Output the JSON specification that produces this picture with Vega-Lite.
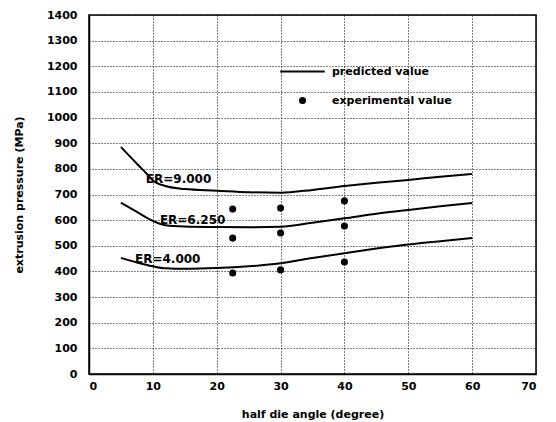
{
  "$schema": "https://vega.github.io/schema/vega-lite/v6.json",
  "width": 447,
  "height": 359,
  "autosize": {"type": "none"},
  "padding": {"left": 89, "top": 15, "right": 20, "bottom": 48},
  "background": "white",
  "config": {
    "view": {"stroke": "black", "strokeWidth": 1.5},
    "axis": {
      "labelFont": "DejaVu Sans", "labelFontSize": 11, "labelFontWeight": "bold", "labelColor": "black",
      "titleFont": "DejaVu Sans", "titleFontSize": 11, "titleFontWeight": "bold", "titleColor": "black",
      "domainColor": "black", "domainWidth": 1.5, "tickSize": 0,
      "gridColor": "black", "gridDash": [1, 2], "gridWidth": 1, "gridOpacity": 1
    }
  },
  "datasets": {
    "curves": [
      {"ER": "9.000", "angle": 5, "pressure": 885}, {"ER": "9.000", "angle": 7.5, "pressure": 820}, {"ER": "9.000", "angle": 9, "pressure": 782}, {"ER": "9.000", "angle": 10, "pressure": 755}, {"ER": "9.000", "angle": 12, "pressure": 733}, {"ER": "9.000", "angle": 15, "pressure": 721}, {"ER": "9.000", "angle": 20, "pressure": 715}, {"ER": "9.000", "angle": 25, "pressure": 709}, {"ER": "9.000", "angle": 30, "pressure": 707}, {"ER": "9.000", "angle": 35, "pressure": 718}, {"ER": "9.000", "angle": 40, "pressure": 733}, {"ER": "9.000", "angle": 45, "pressure": 746}, {"ER": "9.000", "angle": 50, "pressure": 757}, {"ER": "9.000", "angle": 55, "pressure": 769}, {"ER": "9.000", "angle": 60, "pressure": 780},
      {"ER": "6.250", "angle": 5, "pressure": 668}, {"ER": "6.250", "angle": 7.5, "pressure": 632}, {"ER": "6.250", "angle": 10, "pressure": 597}, {"ER": "6.250", "angle": 12, "pressure": 580}, {"ER": "6.250", "angle": 15, "pressure": 575}, {"ER": "6.250", "angle": 20, "pressure": 573}, {"ER": "6.250", "angle": 25, "pressure": 572}, {"ER": "6.250", "angle": 30, "pressure": 574}, {"ER": "6.250", "angle": 35, "pressure": 590}, {"ER": "6.250", "angle": 40, "pressure": 607}, {"ER": "6.250", "angle": 45, "pressure": 625}, {"ER": "6.250", "angle": 50, "pressure": 640}, {"ER": "6.250", "angle": 55, "pressure": 654}, {"ER": "6.250", "angle": 60, "pressure": 667},
      {"ER": "4.000", "angle": 5, "pressure": 453}, {"ER": "4.000", "angle": 7.5, "pressure": 435}, {"ER": "4.000", "angle": 10, "pressure": 420}, {"ER": "4.000", "angle": 12, "pressure": 412}, {"ER": "4.000", "angle": 15, "pressure": 410}, {"ER": "4.000", "angle": 20, "pressure": 413}, {"ER": "4.000", "angle": 25, "pressure": 420}, {"ER": "4.000", "angle": 30, "pressure": 432}, {"ER": "4.000", "angle": 35, "pressure": 452}, {"ER": "4.000", "angle": 40, "pressure": 471}, {"ER": "4.000", "angle": 45, "pressure": 489}, {"ER": "4.000", "angle": 50, "pressure": 505}, {"ER": "4.000", "angle": 55, "pressure": 518}, {"ER": "4.000", "angle": 60, "pressure": 530}
    ],
    "experiments": [
      {"angle": 22.5, "pressure": 643, "legend": "experimental value"},
      {"angle": 22.5, "pressure": 530, "legend": "experimental value"},
      {"angle": 22.5, "pressure": 394, "legend": "experimental value"},
      {"angle": 30, "pressure": 647, "legend": "experimental value"},
      {"angle": 30, "pressure": 550, "legend": "experimental value"},
      {"angle": 30, "pressure": 406, "legend": "experimental value"},
      {"angle": 40, "pressure": 675, "legend": "experimental value"},
      {"angle": 40, "pressure": 577, "legend": "experimental value"},
      {"angle": 40, "pressure": 437, "legend": "experimental value"}
    ],
    "labels": [
      {"text": "ER=9.000", "angle": 8.9, "pressure": 760},
      {"text": "ER=6.250", "angle": 11.1, "pressure": 600},
      {"text": "ER=4.000", "angle": 7.2, "pressure": 448}
    ]
  },
  "encoding": {
    "x": {"field": "angle", "type": "quantitative", "scale": {"domain": [0, 70], "nice": false},
          "axis": {"values": [0, 10, 20, 30, 40, 50, 60, 70], "title": "half die angle (degree)", "labelPadding": 6, "titlePadding": 17}},
    "y": {"field": "pressure", "type": "quantitative", "scale": {"domain": [0, 1400], "nice": false},
          "axis": {"values": [0, 100, 200, 300, 400, 500, 600, 700, 800, 900, 1000, 1100, 1200, 1300, 1400], "format": "d", "title": "extrusion pressure (MPa)", "labelPadding": 12, "titlePadding": 22}}
  },
  "layer": [
    {
      "data": {"name": "curves"},
      "mark": {"type": "line", "color": "black", "strokeWidth": 2, "interpolate": "monotone"},
      "encoding": {"detail": {"field": "ER", "type": "nominal"}}
    },
    {
      "data": {"name": "experiments"},
      "mark": {"type": "point", "filled": true, "color": "black", "size": 50, "opacity": 1},
      "encoding": {
        "shape": {"field": "legend", "type": "nominal",
          "scale": {"domain": ["predicted value", "experimental value"], "range": ["M-6.3,-0.28H6.3V0.28H-6.3Z", "circle"]},
          "legend": {"title": null, "orient": "none", "legendX": 208, "legendY": 51,
            "labelFont": "DejaVu Sans", "labelFontSize": 11, "labelFontWeight": "bold", "labelColor": "black",
            "symbolSize": 50, "symbolOpacity": 1, "symbolFillColor": "black",
            "labelOffset": 24, "rowPadding": 16}}
      }
    },
    {
      "data": {"name": "labels"},
      "mark": {"type": "text", "align": "left", "baseline": "middle", "font": "DejaVu Sans", "fontSize": 12, "fontWeight": "bold", "color": "black"},
      "encoding": {"text": {"field": "text", "type": "nominal"}}
    }
  ]
}
